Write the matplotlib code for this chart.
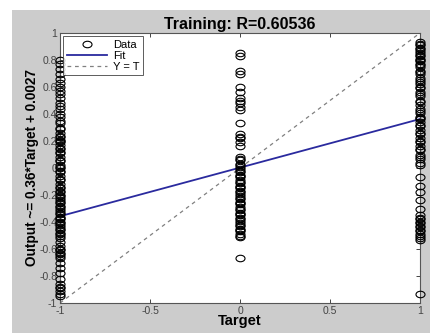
import numpy as np
import matplotlib.pyplot as plt
from matplotlib.patches import Rectangle
from matplotlib.path import Path
from matplotlib.transforms import Affine2D

plt.rcParams['font.family'] = ['Liberation Sans', 'DejaVu Sans']

# regression summary
slope = 0.36
offset = 0.0027
r_value = 0.60536

# network output per target class
out_neg1 = [0.80, 0.77, 0.73, 0.70, 0.66, 0.63, 0.60, 0.57, 0.55, 0.52, 0.48, 0.46,
            0.44, 0.40, 0.38, 0.35, 0.33, 0.30, 0.29, 0.26, 0.24, 0.23, 0.21, 0.20,
            0.19, 0.17, 0.15, 0.14, 0.12, 0.11, 0.08, 0.06, 0.05, 0.02, 0.01, 0.0,
            -0.02, -0.03, -0.06, -0.08, -0.09, -0.12, -0.14, -0.15, -0.17, -0.18,
            -0.20, -0.21, -0.22, -0.24, -0.25, -0.26, -0.28, -0.29, -0.30, -0.32,
            -0.33, -0.34, -0.36, -0.37, -0.38, -0.40, -0.41, -0.42, -0.44, -0.45,
            -0.46, -0.48, -0.49, -0.50, -0.52, -0.55, -0.58, -0.60, -0.61, -0.63,
            -0.64, -0.65, -0.67, -0.70, -0.74, -0.78, -0.82, -0.86, -0.88, -0.89,
            -0.91, -0.93, -0.95]
out_zero = [0.85, 0.83, 0.72, 0.70, 0.60, 0.56, 0.52, 0.50, 0.48, 0.45, 0.43, 0.33,
            0.25, 0.23, 0.22, 0.19, 0.16, 0.08, 0.07, 0.06, 0.03, 0.02, 0.01, -0.01,
            -0.02, -0.03, -0.05, -0.06, -0.07, -0.09, -0.10, -0.11, -0.13, -0.14,
            -0.15, -0.17, -0.18, -0.19, -0.21, -0.22, -0.23, -0.25, -0.26, -0.27,
            -0.29, -0.30, -0.31, -0.33, -0.34, -0.35, -0.37, -0.38, -0.39, -0.41,
            -0.42, -0.43, -0.45, -0.46, -0.47, -0.49, -0.50, -0.51, -0.67]
out_pos1 = [0.93, 0.92, 0.91, 0.89, 0.88, 0.87, 0.85, 0.84, 0.83, 0.81, 0.80, 0.79,
            0.77, 0.76, 0.75, 0.72, 0.71, 0.70, 0.67, 0.65, 0.64, 0.62, 0.60, 0.59,
            0.56, 0.55, 0.53, 0.50, 0.49, 0.47, 0.44, 0.42, 0.41, 0.38, 0.37, 0.36,
            0.34, 0.32, 0.31, 0.28, 0.26, 0.25, 0.22, 0.20, 0.19, 0.16, 0.14, 0.13,
            0.10, 0.08, 0.07, 0.04, 0.02, -0.07, -0.13, -0.18, -0.24, -0.30, -0.35,
            -0.37, -0.38, -0.40, -0.41, -0.43, -0.44, -0.46, -0.47, -0.49, -0.50,
            -0.52, -0.53, -0.93]

targets = np.concatenate([np.full(len(out_neg1), -1.0),
                          np.full(len(out_zero), 0.0),
                          np.full(len(out_pos1), 1.0)])
outputs = np.concatenate([out_neg1, out_zero, out_pos1])

xticks = [-1, -0.5, 0, 0.5, 1]
xtick_labels = ['-1', '-0.5', '0', '0.5', '1']
yticks = [-1, -0.8, -0.6, -0.4, -0.2, 0, 0.2, 0.4, 0.6, 0.8, 1]
ytick_labels = ['-1', '-0.8', '-0.6', '-0.4', '-0.2', '0', '0.2', '0.4', '0.6', '0.8', '1']

# slightly flattened circle, the screenshot is stretched horizontally
oval = Path.unit_circle().transformed(Affine2D().scale(1.0, 0.72))

fig = plt.figure(figsize=(4.3, 3.33), dpi=100, facecolor='white')
# gray window background (screenshot has a white strip top/left)
fig.patches.append(Rectangle((12 / 430, 0), 1, 1 - 10 / 333, transform=fig.transFigure,
                             facecolor='#cccccc', edgecolor='none', zorder=-10))

ax = fig.add_axes([60 / 430, 1 - 303 / 333, 360 / 430, 270 / 333])

line_x = np.array([-1, 1])
ax.plot(targets, outputs, ls='none', marker=oval, mfc='none', mec='black', ms=6.5,
        mew=0.8, label='Data', clip_on=False, zorder=3)
ax.plot(line_x, slope * line_x + offset, color='#2a2a9e', lw=1.3, label='Fit', zorder=2)
ax.plot(line_x, line_x, ls=(0, (3, 3)), color='#808080', lw=0.9, label='Y = T', zorder=1)

ax.set_xlim(-1, 1)
ax.set_ylim(-1, 1)
ax.set_xticks(xticks)
ax.set_xticklabels(xtick_labels)
ax.set_yticks(yticks)
ax.set_yticklabels(ytick_labels)
ax.tick_params(direction='in', length=3, width=0.7, labelsize=7.5, colors='#444444',
               top=True, right=True, pad=2)
for s in ax.spines.values():
    s.set_color('#555555')
    s.set_linewidth(0.8)

ax.set_title(f'Training: R={r_value}', fontsize=11.5, fontweight='bold', pad=3)
ax.set_xlabel('Target', fontsize=10.5, fontweight='bold', labelpad=-1)
ax.set_ylabel(f'Output ~= {slope}*Target + {offset}', fontsize=9.8, fontweight='bold',
              labelpad=0)

leg = ax.legend(loc='upper left', fontsize=8, frameon=True, fancybox=False,
                borderaxespad=0.3, handlelength=3.6, borderpad=0.3, labelspacing=0.1,
                handletextpad=0.6, markerfirst=True)
leg.get_frame().set_edgecolor('#333333')
leg.get_frame().set_linewidth(0.7)

fig.savefig('out.png', dpi=100, facecolor=fig.get_facecolor())
